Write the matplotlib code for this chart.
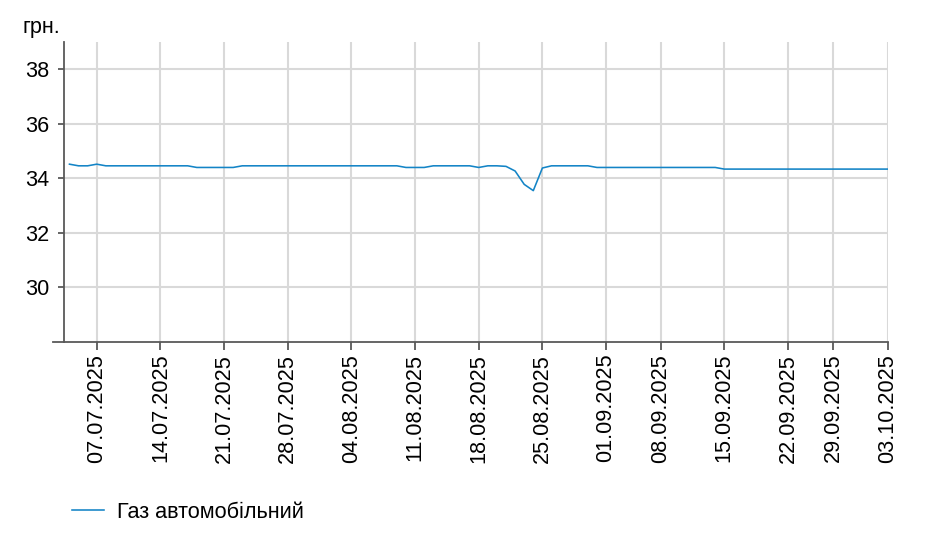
import matplotlib
matplotlib.use('Agg')
import matplotlib.pyplot as plt
from matplotlib.lines import Line2D

plt.rcParams['font.family'] = ['Liberation Sans', 'DejaVu Sans']

series_name = 'Газ автомобільний'
y_unit = 'грн.'

values = (
    [34.52, 34.46, 34.46, 34.52]
    + [34.46] * 10
    + [34.40] * 5
    + [34.46] * 18
    + [34.40] * 3
    + [34.46] * 5
    + [34.40]
    + [34.46, 34.46]
    + [34.44, 34.27, 33.78, 33.55, 34.38]
    + [34.46] * 5
    + [34.40] * 14
    + [34.34] * 19
)

tick_labels = ['07.07.2025', '14.07.2025', '21.07.2025', '28.07.2025', '04.08.2025',
               '11.08.2025', '18.08.2025', '25.08.2025', '01.09.2025', '08.09.2025',
               '15.09.2025', '22.09.2025', '29.09.2025', '03.10.2025']
tick_idx = [3, 10, 17, 24, 31, 38, 45, 52, 59, 65, 72, 79, 84, 90]
y_ticks = [30, 32, 34, 36, 38]

FS = 15.6
W, H = 930, 548
fig = plt.figure(figsize=(W / 100, H / 100), dpi=100)
ax = fig.add_axes([64 / W, 1 - 342 / H, (888 - 64) / W, 300 / H])

x = list(range(len(values)))
line, = ax.plot(x, values, color='#1384c6', lw=1.15, label=series_name)

ax.set_xlim(-0.6, len(values) - 1)
ax.set_ylim(28, 39)
ax.set_yticks(y_ticks)
ax.set_xticks(tick_idx)
ax.set_xticklabels(tick_labels, rotation=90)

ax.grid(True, color='#d9d9d9', lw=1.5)
ax.set_axisbelow(True)
for s in ['top', 'right']:
    ax.spines[s].set_visible(False)
for s in ['left', 'bottom']:
    ax.spines[s].set_color('#595959')
    ax.spines[s].set_linewidth(1.3)

# extend bottom axis line a bit to the left
ax.add_line(Line2D([-0.013, 0], [0, 0], transform=ax.transAxes, color='#595959',
                   lw=1.3, clip_on=False))

ax.tick_params(axis='both', color='#595959', labelcolor='black', labelsize=FS, width=1.3)
ax.tick_params(axis='x', length=5.5, pad=3)
ax.tick_params(axis='y', length=4.5, pad=6)

fig.text(22 / W, 1 - 28 / H, y_unit, fontsize=FS, va='center', ha='left')

fig.legend(handles=[line], loc='center left', bbox_to_anchor=(72 / W, 1 - 512 / H),
           frameon=False, fontsize=FS, handlelength=1.47, handletextpad=0.6,
           borderpad=0, borderaxespad=0)

fig.savefig('out.png', dpi=100)
